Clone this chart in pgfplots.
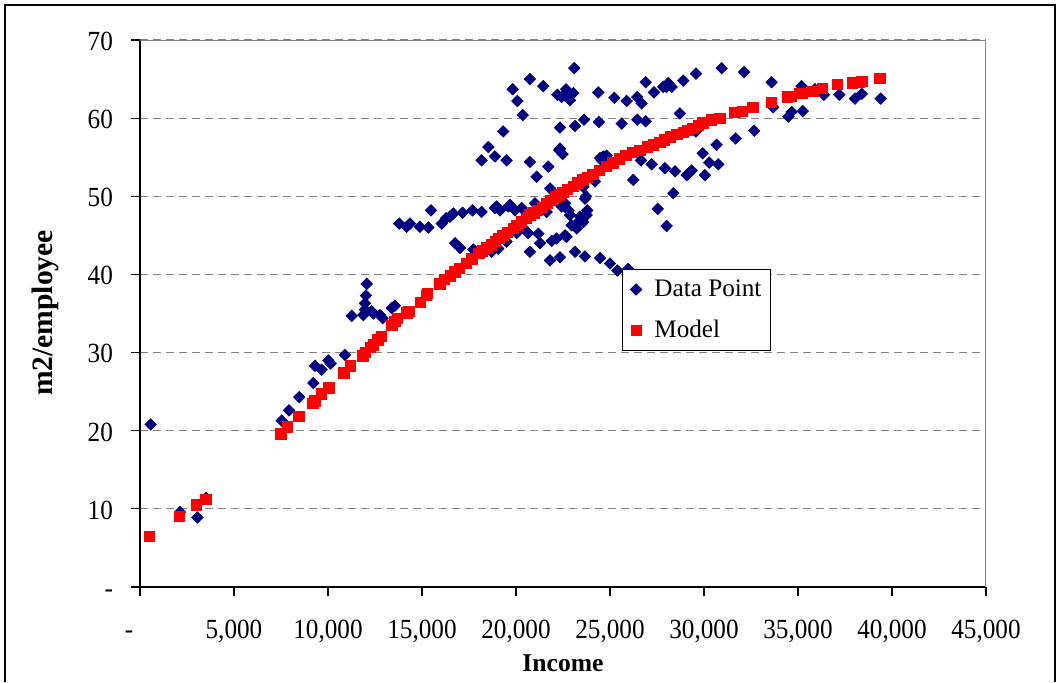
\documentclass[border=0pt]{standalone}
\usepackage{fontspec}
\setmainfont{Liberation Serif}
\usepackage{pgfplots}
\pgfplotsset{compat=1.18}
\definecolor{navyblue}{RGB}{0,0,128}
\definecolor{gridgray}{RGB}{128,128,128}

\begin{document}
\begin{tikzpicture}
% page = 1057 x 682 px, 1 px = 0.5pt, axis origin at px (140,587)
\useasboundingbox (-70pt,-47.5pt) rectangle (458.5pt,293.5pt);
\draw[black, line width=0.8pt] (-67.5pt,-47.5pt) -- (-67.5pt,291pt) -- (457.5pt,291pt) -- (457.5pt,-47.5pt);
\begin{axis}[
  at={(0,0)}, anchor=south west,
  scale only axis, width=423pt, height=273.5pt,
  xmin=0, xmax=45000, ymin=0, ymax=70,
  axis lines=left, axis line style={-, black, line width=0.6pt},
  tick align=outside, major tick length=4.5pt,
  tick style={black, line width=0.6pt},
  xtick={0,5000,10000,15000,20000,25000,30000,35000,40000,45000},
  xticklabels={{\makebox[15pt][l]{-}},{5,000},{10,000},{15,000},{20,000},{25,000},{30,000},{35,000},{40,000},{45,000}},
  ytick={0,10,20,30,40,50,60,70},
  yticklabels={{-},10,20,30,40,50,60,70},
  ticklabel style={font=\fontsize{12.6}{15}\selectfont, yscale=1.1},
  xticklabel style={anchor=base, yshift=-19.5pt},
  yticklabel style={anchor=base east, yshift=-4.7pt, xshift=-5.5pt},
  ymajorgrids, major grid style={gridgray, line width=0.6pt, dash pattern=on 4pt off 2.5pt},
  xlabel={\textbf{Income}},
  ylabel={\textbf{m2/employee}},
  xlabel style={at={(axis description cs:0.5,-0.139)}, anchor=center, font=\fontsize{12.8}{15}\selectfont},
  ylabel style={at={(axis description cs:-0.1123,0.501)}, anchor=center, rotate=0, font=\fontsize{14.8}{17}\selectfont},
  legend style={at={(0.570,0.581)}, anchor=north west, draw=black, fill=white,
    font=\fontsize{12.6}{15}\selectfont, row sep=6.5pt, inner xsep=2.5pt, inner ysep=3pt},
  legend cell align=left,
  legend image code/.code={\path[draw=none, fill=none] (0cm,0cm) -- (0.40cm,0cm);
    \draw[mark repeat=2,mark phase=2,#1] plot coordinates {(0cm,0cm) (0.15cm,0cm) (0.30cm,0cm)};},
]
\draw[gridgray, line width=0.6pt] (rel axis cs:0,1) -- (rel axis cs:1,1) -- (rel axis cs:1,0);

\addplot[only marks, navyblue, mark=square*, mark size=2.0pt, mark options={rotate=45, solid, line width=0.4pt}] coordinates {
(569,20.8) (2128,9.6) (3050,8.9) (3510,11.4) (7536,21.3) (7925,22.6) (8475,24.3)
(9220,26.1) (9310,28.3) (9663,27.8) (10020,29.0) (10140,28.6) (10900,29.7)
(11260,34.7) (11880,34.8) (11970,36.3) (11970,35.5) (12020,37.3) (12060,38.8)
(12320,35.3) (12410,35.0) (12770,34.8) (12910,34.4) (13390,35.7) (13560,36.0)
(13790,46.5) (14180,46.1) (14360,46.5) (14890,46.1) (15340,46.0) (15480,48.2)
(16050,46.5) (16280,47.2) (16490,47.4) (16670,47.8) (16760,44.0) (17020,43.4)
(17160,47.9) (17690,48.2) (17730,43.2) (18170,48.0) (18170,54.6) (18260,42.7)
(18530,56.3) (18710,42.9) (18880,55.1) (18880,48.5) (18970,48.7) (19060,43.3)
(19150,48.2) (19320,58.3) (19500,54.6) (19500,44.2) (19590,48.7) (19680,48.9)
(19820,63.7) (19950,48.2) (20040,45.3) (20070,62.2) (20300,48.5) (20360,60.4)
(20570,45.5) (20650,45.3) (20740,65.0) (20740,54.4) (20740,42.9) (21010,49.1)
(21100,52.5) (21190,45.2) (21280,44.0) (21450,64.1) (21630,48.0) (21720,53.8)
(21810,41.8) (21810,51.0) (21900,44.3) (22160,44.6) (22200,63.0) (22300,55.9)
(22340,58.8) (22340,56.1) (22340,42.2) (22430,62.7) (22430,48.7) (22480,55.4)
(22610,49.1) (22610,45.0) (22660,63.7) (22690,44.8) (22780,62.7) (22790,48.2)
(22870,62.3) (22870,47.6) (22960,46.3) (23050,63.2) (23100,66.4) (23140,59.0)
(23140,42.9) (23230,46.5) (23230,45.9) (23400,47.4) (23580,51.2) (23580,46.7)
(23620,59.8) (23670,49.7) (23670,47.6) (23670,42.3) (23720,50.0) (23760,47.6)
(23790,48.2) (24200,51.9) (24380,63.3) (24410,59.5) (24470,54.9) (24470,42.1)
(24560,54.6) (24650,55.1) (24820,55.2) (25000,41.4) (25230,62.6) (25390,40.5)
(25620,59.3) (25890,62.2) (25970,40.7) (26240,52.1) (26450,62.7) (26450,59.8)
(26650,54.6) (26680,61.9) (26900,64.6) (26900,59.6) (27210,54.1) (27340,63.3)
(27540,48.4) (27830,64.0) (27920,53.6) (28010,46.2) (28010,64.0) (28100,64.5)
(28280,64.0) (28370,50.4) (28460,53.2) (28720,60.6) (28900,64.8) (29080,52.7)
(29160,52.9) (29340,53.3) (29570,65.7) (29570,58.3) (29930,55.5) (30050,52.7)
(30280,54.3) (30670,56.6) (30760,54.1) (30940,66.4) (31680,57.4) (32130,65.9)
(32670,58.4) (33600,64.6) (33680,61.4) (34490,60.2) (34660,60.8) (35190,64.1)
(35250,60.9) (35900,63.7) (36380,63.0) (37200,63.0) (38030,62.5) (38390,63.1)
(39400,62.5)
};
\addlegendentry{Data Point}

\addplot[only marks, red, mark=square*, mark size=2.6pt, mark options={solid, line width=0.4pt}] coordinates {
(500,6.5) (2100,9.0) (3000,10.5) (3500,11.2) (7500,19.6) (7850,20.5) (8450,21.8)
(9200,23.5) (9300,23.8) (9650,24.7) (10050,25.5) (10850,27.4) (11200,28.3)
(11850,29.6) (12000,30.0) (12250,30.7) (12400,31.0) (12650,31.6) (12850,32.1)
(13400,33.5) (13550,34.0) (13700,34.4) (14200,35.1) (14300,35.3) (14900,36.4)
(15250,37.3) (15300,37.6) (15950,38.8) (16200,39.4) (16500,39.8) (16750,40.3)
(17000,40.8) (17350,41.4) (17650,42.0) (18000,42.7) (18200,43.0) (18450,43.4)
(18700,43.8) (18900,44.2) (19100,44.6) (19300,45.0) (19550,45.4) (19850,45.9)
(20050,46.3) (20300,46.7) (20550,47.2) (20750,47.6) (20950,47.9) (21150,48.2)
(21400,48.6) (21650,49.1) (21850,49.5) (22100,49.9) (22300,50.2) (22500,50.5)
(22750,50.9) (23050,51.3) (23300,51.7) (23550,52.1) (23800,52.4) (24100,52.8)
(24450,53.3) (24800,53.8) (25150,54.3) (25500,54.8) (25850,55.2) (26200,55.6)
(26600,55.9) (27000,56.3) (27300,56.6) (27650,56.9) (27900,57.2) (28200,57.6)
(28550,57.9) (28900,58.2) (29150,58.4) (29400,58.7) (29700,59.1) (29950,59.4)
(30400,59.8) (30850,60.0) (31650,60.7) (32050,60.9) (32600,61.4) (33600,62.0)
(34450,62.7) (34650,62.8) (35100,63.2) (35250,63.2) (35800,63.4) (36300,63.8)
(37100,64.3) (37900,64.5) (38250,64.6) (38400,64.7) (39350,65.1)
};
\addlegendentry{Model}
\end{axis}
\end{tikzpicture}
\end{document}
